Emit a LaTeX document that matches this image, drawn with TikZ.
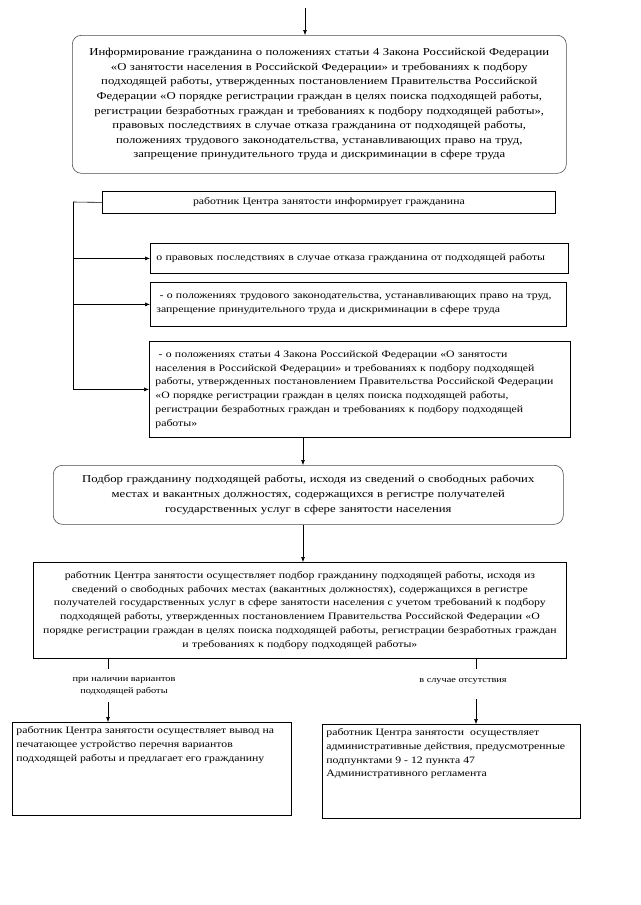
\documentclass[tikz,border=0pt]{standalone}
\usepackage{fontspec}
\setmainfont{Liberation Serif}[FakeStretch=1.2]
\usetikzlibrary{arrows.meta}
\begin{document}
\begin{tikzpicture}[x=1pt,y=-1pt,
  box/.style={draw, line width=0.8pt, anchor=north west, inner xsep=6pt, inner ysep=2pt},
  rbox/.style={box, rounded corners=9pt, draw=black!70, line width=0.6pt},
  big/.style={font=\fontsize{10.6}{14.6}\selectfont},
  mid/.style={font=\fontsize{9.8}{13.8}\selectfont},
  lbl/.style={font=\fontsize{8.6}{12}\selectfont, align=center, inner sep=1pt},
  arr/.style={-{Latex[length=5pt,width=4pt]}, line width=0.6pt},
  ln/.style={line width=0.6pt}]
\useasboundingbox (0,0) rectangle (640,905);

\node[rbox, big, align=center, minimum width=494pt, minimum height=138pt, text width=482pt] (b1) at (72,35)
{Информирование гражданина о положениях статьи 4 Закона Российской Федерации\\
«О занятости населения в Российской Федерации» и требованиях к подбору\\
подходящей работы, утвержденных постановлением Правительства Российской\\
Федерации «О порядке регистрации граждан в целях поиска подходящей работы,\\
регистрации безработных граждан и требованиях к подбору подходящей работы»,\\
правовых последствиях в случае отказа гражданина от подходящей работы,\\
положениях трудового законодательства, устанавливающих право на труд,\\
запрещение принудительного труда и дискриминации в сфере труда};

\node[box, mid, align=center, minimum width=453pt, minimum height=22pt, text width=441pt] (b2) at (102,191)
{работник Центра занятости информирует гражданина};

\node[box, mid, align=left, minimum width=418pt, minimum height=30pt, text width=406pt] (b3) at (150,243)
{о правовых последствиях в случае отказа гражданина от подходящей работы};

\node[box, mid, align=left, minimum width=416pt, minimum height=44pt, text width=404pt] (b4) at (150,282)
{\ - о положениях трудового законодательства, устанавливающих право на труд,\\
запрещение принудительного труда и дискриминации в сфере труда};

\node[box, mid, align=left, minimum width=421pt, minimum height=96pt, text width=409pt] (b5) at (149,341)
{\ - о положениях статьи 4 Закона Российской Федерации «О занятости\\
населения в Российской Федерации» и требованиях к подбору подходящей\\
работы, утвержденных постановлением Правительства Российской Федерации\\
«О порядке регистрации граждан в целях поиска подходящей работы,\\
регистрации безработных граждан и требованиях к подбору подходящей\\
работы»};

\node[rbox, big, align=center, minimum width=510pt, minimum height=59pt, text width=498pt] (b6) at (53,465)
{Подбор гражданину подходящей работы, исходя из сведений о свободных рабочих\\
местах и вакантных должностях, содержащихся в регистре получателей\\
государственных услуг в сфере занятости населения};

\node[box, mid, align=center, minimum width=533pt, minimum height=96pt, text width=521pt] (b7) at (33,562)
{работник Центра занятости осуществляет подбор гражданину подходящей работы, исходя из\\
сведений о свободных рабочих местах (вакантных должностях), содержащихся в регистре\\
получателей государственных услуг в сфере занятости населения с учетом требований к подбору\\
подходящей работы, утвержденных постановлением Правительства Российской Федерации «О\\
порядке регистрации граждан в целях поиска подходящей работы, регистрации безработных граждан\\
и требованиях к подбору подходящей работы»};

\node[box, mid, inner xsep=4pt, inner ysep=4pt] (b8) at (12,722)
{\parbox[t][85pt][t]{271pt}{работник Центра занятости осуществляет вывод на\\
печатающее устройство перечня вариантов\\
подходящей работы и предлагает его гражданину}};

\node[box, mid, inner xsep=4pt, inner ysep=4pt] (b9) at (322,724)
{\parbox[t][86pt][t]{250pt}{работник Центра занятости\ \ осуществляет\\
административные действия, предусмотренные\\
подпунктами 9 - 12 пункта 47\\
Административного регламента}};

\node[lbl] (l1) at (124,686) {при наличии вариантов\\подходящей работы};
\node[lbl] (l2) at (463,681) {в случае отсутствия};

% coordinates for vertical connector lines
\coordinate (top) at (305,8);
\coordinate (trunk) at (73,202);
\coordinate (mx) at (303,0);
\coordinate (lx) at (108,0);
\coordinate (rx) at (476,0);

\draw[arr] (top) -- (top |- b1.north);
\draw[ln] (b2.west) -- (trunk);
\draw[ln] (trunk) -- (trunk |- b5.west);
\draw[arr] (trunk |- b3.west) -- (b3.west);
\draw[arr] (trunk |- b4.west) -- (b4.west);
\draw[arr] (trunk |- b5.west) -- (b5.west);
\draw[arr] (mx |- b5.south) -- (mx |- b6.north);
\draw[arr] (mx |- b6.south) -- (mx |- b7.north);
\draw[ln] (lx |- b7.south) -- ++(0,10);
\draw[arr] (lx |- l1.south) ++(0,6) -- (lx |- b8.north);
\draw[ln] (rx |- b7.south) -- ++(0,10);
\draw[arr] (rx |- l2.south) ++(0,14) -- (rx |- b9.north);
\end{tikzpicture}
\end{document}
